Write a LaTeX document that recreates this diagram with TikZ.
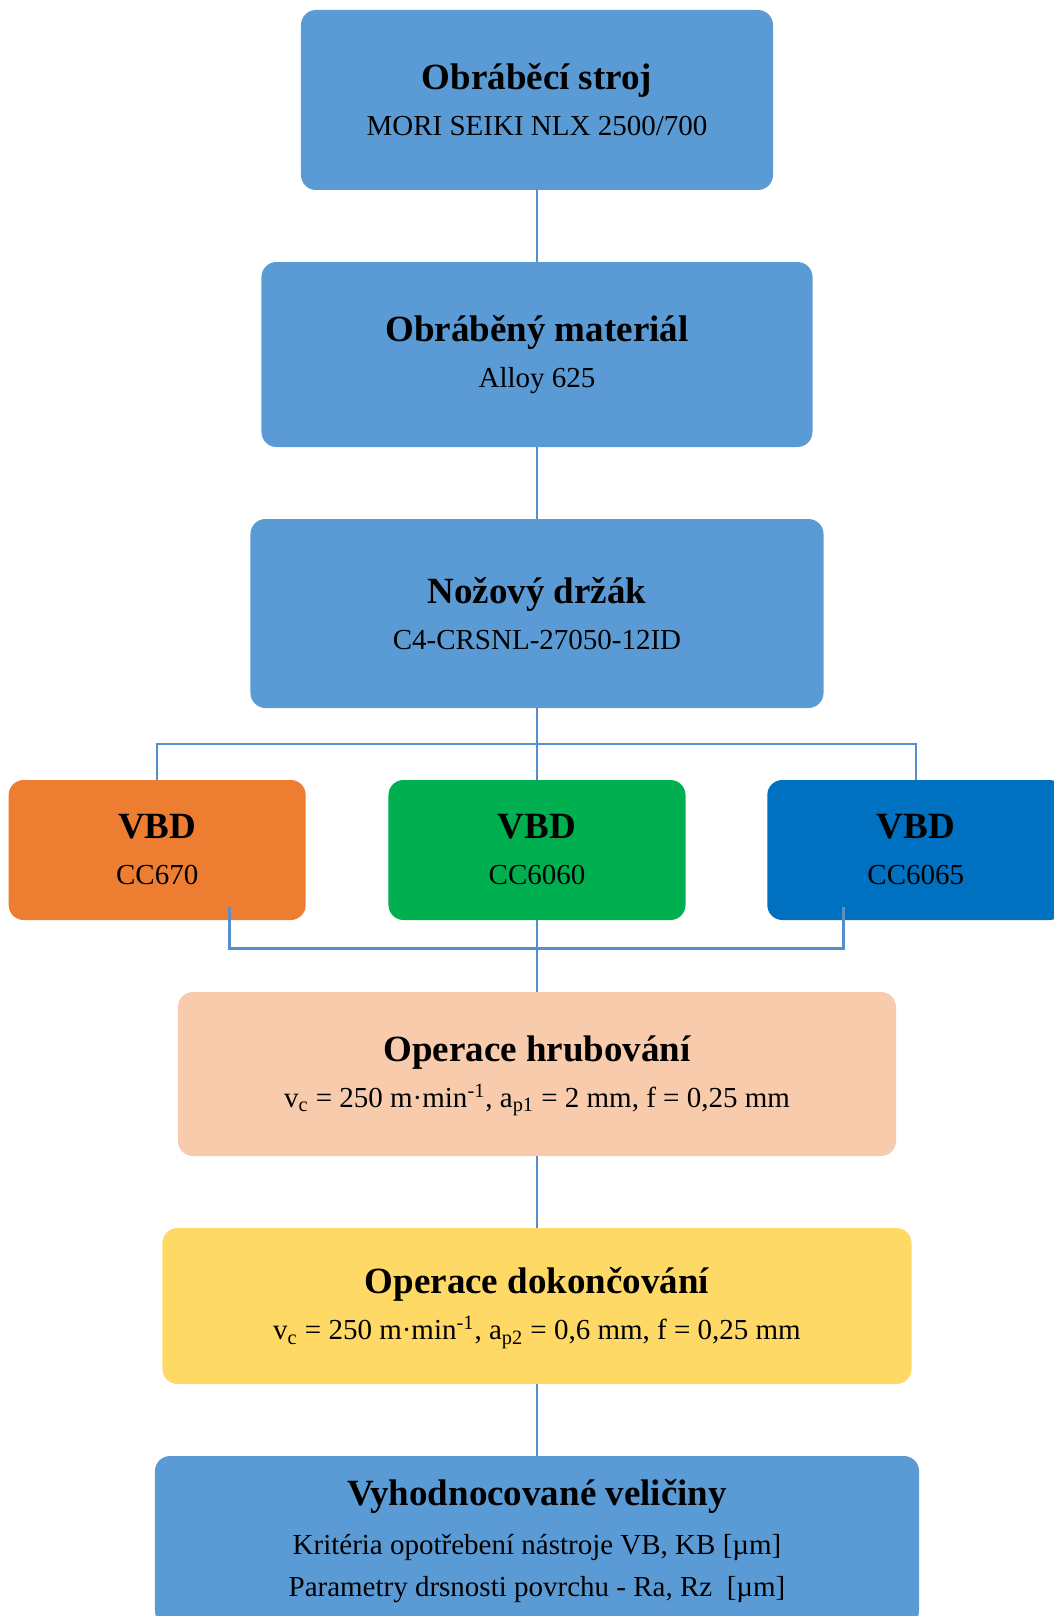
\documentclass[tikz,border=0pt]{standalone}
\usepackage{fontspec}
\setmainfont{Liberation Serif}
\usetikzlibrary{positioning}
\definecolor{boxblue}{HTML}{5B9BD5}
\definecolor{vbdorange}{HTML}{ED7D31}
\definecolor{vbdgreen}{HTML}{00B050}
\definecolor{vbdblue}{HTML}{0070C0}
\definecolor{roughpeach}{HTML}{F8CBAD}
\definecolor{finishyellow}{HTML}{FFD966}
\definecolor{linkblue}{HTML}{5590CC}
\newcommand{\boxtitle}[1]{{\fontsize{18.5}{23}\selectfont\bfseries #1}}
\newcommand{\lowidx}[1]{\smash{\textsubscript{#1}}}

\begin{document}
\begin{tikzpicture}[node distance=35.6pt,
  main node/.style={rectangle, rounded corners=7.5pt, align=center, inner sep=0pt, font=\fontsize{14.5}{23}\selectfont},
  vbd node/.style={main node, minimum width=148.5pt, minimum height=70pt},
  link/.style={draw=linkblue, line width=1.2pt}]
  \useasboundingbox (-268.5pt,50pt) rectangle (258.5pt,-758pt);

  \node[main node, fill=boxblue, minimum width=236pt, minimum height=90pt] (1) at (0,0)
    {\boxtitle{Obráběcí stroj}\\MORI SEIKI NLX 2500/700};
  \node[main node, fill=boxblue, minimum width=275.5pt, minimum height=92.5pt] (2) [below=of 1]
    {\boxtitle{Obráběný materiál}\\Alloy 625};
  \node[main node, fill=boxblue, minimum width=286.5pt, minimum height=94.5pt] (3) [below=of 2]
    {\boxtitle{Nožový držák}\\C4-CRSNL-27050-12ID};
  \node[vbd node, fill=vbdgreen] (5) [below=of 3] {\boxtitle{VBD}\\CC6060};
  \node[vbd node, fill=vbdorange] (4) [left=41pt of 5] {\boxtitle{VBD}\\CC670};
  \node[vbd node, fill=vbdblue] (6) [right=40.5pt of 5] {\boxtitle{VBD}\\CC6065};
  \node[main node, fill=roughpeach, minimum width=359pt, minimum height=82pt] (7) [below=of 5]
    {\boxtitle{Operace hrubování}\\v\lowidx{c} = 250 m·min\textsuperscript{-1}, a\lowidx{p1} = 2 mm, f = 0,25 mm};
  \node[main node, fill=finishyellow, minimum width=374.5pt, minimum height=78pt] (8) [below=of 7]
    {\boxtitle{Operace dokončování}\\v\lowidx{c} = 250 m·min\textsuperscript{-1}, a\lowidx{p2} = 0,6 mm, f = 0,25 mm};
  \node[main node, fill=boxblue, minimum width=382pt, minimum height=85pt, font=\fontsize{14.5}{21}\selectfont] (9) [below=of 8]
    {\boxtitle{Vyhodnocované veličiny}\\[3.5pt]Kritéria opotřebení nástroje VB, KB [µm]\\Parametry drsnosti povrchu - Ra, Rz\ \ [µm]};

  \coordinate (4b) at ([xshift=36.25pt,yshift=6.5pt]4.south);
  \coordinate (6b) at ([xshift=-36.25pt,yshift=6.5pt]6.south);

  \path[link]
    (1) edge (2)
    (2) edge (3)
    (3) edge (5)
    (5) edge (7)
    (7) edge (8)
    (8) edge (9);
  \draw[link] (4.north) -- ++(0,17.75pt) -| (6.north);
  \draw[link] (4b) -- ++(0,-20.5pt) -| (6b);
\end{tikzpicture}
\end{document}
